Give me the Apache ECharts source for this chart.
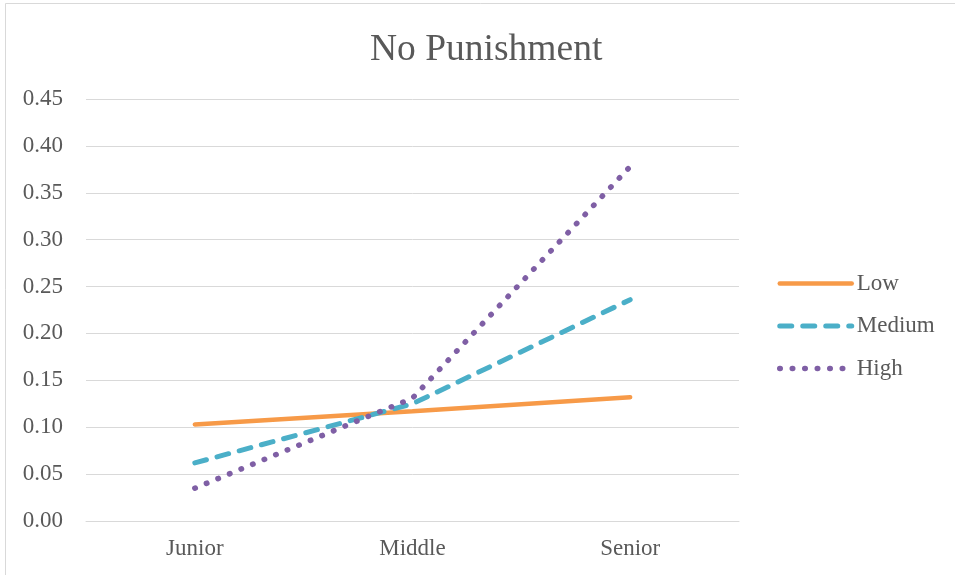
<!DOCTYPE html>
<html>
<head>
<meta charset="utf-8">
<title>No Punishment</title>
<script src="https://cdn.jsdelivr.net/npm/echarts@6/dist/echarts.min.js"></script>
<style>
  html, body { margin: 0; padding: 0; background: #ffffff; }
  #chart { width: 955px; height: 575px; }
</style>
</head>
<body>
<div id="chart"></div>
<script>
// Categories and series values
const categories = ['Junior', 'Middle', 'Senior'];
const lowValues = [0.103, 0.117, 0.132];
const mediumValues = [0.062, 0.125, 0.236];
const highValues = [0.035, 0.131, 0.378];
const seriesNames = ['Low', 'Medium', 'High'];

const FONT = '"Liberation Serif", "Times New Roman", serif';
const TEXT = '#595959';

const chart = echarts.init(document.getElementById('chart'), null, { renderer: 'canvas' });

const lowLine = { color: '#F79A48', width: 4.5, type: 'solid', cap: 'round' };
const mediumLine = { color: '#4BAFC8', width: 5, type: [12, 11], cap: 'round' };
const highLine = { color: '#7F5FA5', width: 5.5, type: [0.5, 12], cap: 'round' };

chart.setOption({
  backgroundColor: '#ffffff',
  animation: false,
  title: {
    text: 'No Punishment',
    left: 365,
    top: 26,
    textStyle: { fontFamily: FONT, fontSize: 37.5, fontWeight: 'normal', color: TEXT }
  },
  graphic: [{
    type: 'rect',
    shape: { x: 5.5, y: 3.5, width: 1200, height: 1200 },
    style: { fill: 'none', stroke: '#d9d9d9', lineWidth: 1 },
    silent: true
  }],
  legend: {
    orient: 'vertical',
    left: 772,
    top: 267,
    itemWidth: 72,
    itemHeight: 20,
    itemGap: 19.5,
    itemStyle: { opacity: 0 },
    textStyle: { fontFamily: FONT, fontSize: 23, color: TEXT },
    data: [
      { name: seriesNames[0], lineStyle: lowLine },
      { name: seriesNames[1], lineStyle: mediumLine },
      { name: seriesNames[2], lineStyle: highLine }
    ]
  },
  grid: { left: 86, right: 216, top: 99, bottom: 54, containLabel: false },
  xAxis: {
    type: 'category',
    data: categories,
    boundaryGap: true,
    axisLine: { show: true, lineStyle: { color: '#d9d9d9', width: 1 } },
    axisTick: { show: false },
    axisLabel: { fontFamily: FONT, fontSize: 23, color: TEXT, margin: 16 }
  },
  yAxis: {
    type: 'value',
    min: 0,
    max: 0.45,
    interval: 0.05,
    axisLine: { show: false },
    axisTick: { show: false },
    splitLine: { lineStyle: { color: '#d9d9d9', width: 1 } },
    axisLabel: {
      fontFamily: FONT, fontSize: 23, color: TEXT, margin: 23,
      formatter: v => v.toFixed(2)
    }
  },
  series: [
    {
      name: 'Low', type: 'line', data: lowValues,
      symbol: 'none', smooth: false,
      color: lowLine.color,
      lineStyle: lowLine
    },
    {
      name: 'Medium', type: 'line', data: mediumValues,
      symbol: 'none', smooth: false,
      color: mediumLine.color,
      lineStyle: mediumLine
    },
    {
      name: 'High', type: 'line', data: highValues,
      symbol: 'none', smooth: false,
      color: highLine.color,
      lineStyle: highLine
    }
  ]
});
</script>
</body>
</html>
